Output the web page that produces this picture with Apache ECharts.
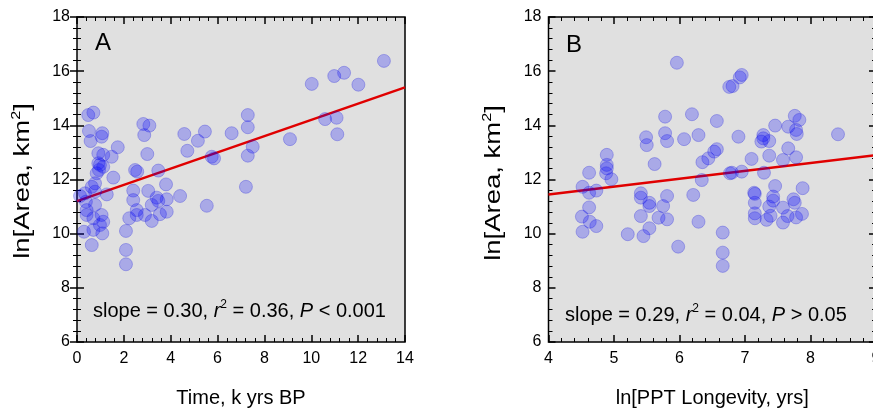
<!DOCTYPE html>
<html><head><meta charset="utf-8">
<script src="https://cdn.jsdelivr.net/npm/echarts@6/dist/echarts.min.js"></script>
<style>html,body{margin:0;padding:0;background:#fff}#c{width:873px;height:414px}</style>
</head><body><div id="c"></div>
<script>
// Panel A: Time (k yrs BP) vs ln[Area]
const aTime = [0.48,0.70,0.51,0.58,1.08,1.05,1.74,1.48,1.12,0.91,0.91,0.98,0.84,1.12,1.55,0.77,0.63,0.34,0.77,1.27,0.38,0.41,0.77,0.41,0.70,1.05,1.12,0.98,0.30,0.70,1.08,0.63,0.94,2.83,3.09,2.87,3.00,2.48,2.57,3.47,3.80,2.40,2.40,3.04,3.40,3.47,3.83,4.40,2.55,2.23,2.55,2.90,3.19,3.19,3.54,3.83,2.09,2.09,2.09,4.58,4.71,5.16,5.46,6.60,7.29,7.29,7.50,7.29,5.75,5.85,9.09,10.02,10.98,11.40,12.01,13.10,10.59,11.08,11.11,7.21,5.54,0.13];
const aArea = [14.38,14.47,13.79,13.42,13.71,13.58,13.19,12.84,12.91,12.97,12.60,12.54,12.23,12.47,12.07,11.86,11.73,11.49,11.55,11.45,11.18,10.87,11.06,10.69,10.57,10.69,10.44,10.32,10.07,10.14,10.01,9.58,12.35,14.05,13.99,13.64,12.94,12.35,12.29,12.33,11.82,11.59,11.24,11.58,11.33,11.21,11.27,11.39,10.87,10.57,10.69,10.69,11.06,10.47,10.72,10.81,10.10,9.40,8.87,13.68,13.06,13.43,13.77,13.71,14.38,13.93,13.21,12.88,12.84,12.78,13.49,15.53,15.82,15.94,15.50,16.38,14.23,14.28,13.67,11.73,11.03,11.39];
// Panel B: ln[PPT Longevity] vs ln[Area]
const bPPT = [5.96,6.95,6.92,6.81,6.76,5.78,6.19,6.57,5.49,5.50,5.78,5.81,6.07,6.29,6.90,4.89,4.89,4.89,4.88,5.62,4.62,4.96,6.35,6.44,6.53,6.57,6.34,6.77,4.52,4.62,4.73,5.41,5.41,5.54,5.54,5.81,5.75,6.21,4.62,4.51,4.63,4.73,5.41,5.68,5.81,6.29,4.52,5.21,5.54,5.45,5.98,6.66,6.66,6.66,7.76,7.83,7.46,7.66,7.78,7.79,7.28,7.28,7.37,7.25,8.42,7.66,7.37,7.78,7.58,7.10,6.80,6.95,7.29,7.46,7.88,7.14,7.15,7.43,7.43,7.74,7.76,7.15,7.37,7.58,7.15,7.15,7.39,7.33,7.65,7.58,7.78,7.87];
const bArea = [16.31,15.86,15.77,15.45,15.42,14.32,14.41,14.16,13.56,13.27,13.71,13.42,13.49,13.64,13.58,12.91,12.54,12.41,12.23,12.57,12.25,12.01,12.64,12.78,13.03,13.12,11.98,12.23,11.73,11.51,11.59,11.49,11.33,11.14,11.02,11.39,11.02,11.43,10.97,10.63,10.44,10.28,10.65,10.59,10.53,10.44,10.07,9.98,10.20,9.91,9.52,10.04,9.30,8.81,14.35,14.20,13.99,13.95,13.83,13.68,13.64,13.52,13.42,13.40,13.67,13.15,12.88,12.82,12.72,12.76,12.25,12.29,12.25,11.76,11.68,11.51,11.47,11.37,11.22,11.27,11.14,11.14,11.00,10.96,10.75,10.57,10.66,10.51,10.65,10.41,10.60,10.73];
// Regression lines (end points)
const regAx = [0, 14], regAy = [11.2, 15.4];
const regBx = [4, 9], regBy = [11.45, 12.9];
// Tick settings / labels
const yTicks = {min: 6, max: 18, interval: 2};
const aTicks = {min: 0, max: 14, interval: 2};
const bTicks = {min: 4, max: 9, interval: 1};
const yName = ['ln[Area, km', '2', ']'];
const statsA = ['slope = 0.30, ', 'r', '2', ' = 0.36, ', 'P', ' < 0.001'];
const statsB = ['slope = 0.29, ', 'r', '2', ' = 0.04, ', 'P', ' > 0.05'];

const FONT = "'Liberation Sans', Arial, sans-serif";
const zip = (xs, ys) => xs.map((x, i) => [x, ys[i]]);
const tick = {inside: true, length: 7, lineStyle: {color: '#000', width: 1.5}};
const minor = {show: true, splitNumber: 5, length: 4, lineStyle: {color: '#000', width: 1}};
const lbl = {color: '#000', fontSize: 16, fontFamily: FONT};
const supRich = {
  n: {fontSize: 20, fontFamily: FONT, color: '#000', lineHeight: 24},
  i: {fontSize: 20, fontFamily: FONT, color: '#000', fontStyle: 'italic', lineHeight: 24},
  s: {fontSize: 12, fontFamily: FONT, color: '#000', verticalAlign: 'top', lineHeight: 12}
};
const yRich = {
  n: {fontSize: 22, fontFamily: FONT, color: '#000', lineHeight: 26},
  s: {fontSize: 13, fontFamily: FONT, color: '#000', verticalAlign: 'top', lineHeight: 13}
};
function statText(p) {
  return `{n|${p[0]}}{i|${p[1]}}{s|${p[2]}}{n|${p[3]}}{i|${p[4]}}{n|${p[5]}}`;
}
function xAxes(t, grid, name) {
  return [
    {type: 'value', gridIndex: grid, position: 'bottom', min: t.min, max: t.max, interval: t.interval,
     axisLine: {show: false}, axisTick: tick, minorTick: minor, splitLine: {show: false},
     axisLabel: Object.assign({margin: 9}, lbl),
     name: name, nameLocation: 'middle', nameGap: 46,
     nameTextStyle: {color: '#000', fontSize: 20, fontFamily: FONT}},
    {type: 'value', gridIndex: grid, position: 'top', min: t.min, max: t.max, interval: t.interval,
     axisLine: {show: false}, axisTick: tick, minorTick: minor, splitLine: {show: false},
     axisLabel: {show: false}}
  ];
}
function yAxes(grid) {
  return [
    {type: 'value', gridIndex: grid, position: 'left', min: yTicks.min, max: yTicks.max, interval: yTicks.interval,
     axisLine: {show: false}, axisTick: tick, minorTick: minor, splitLine: {show: false},
     axisLabel: Object.assign({margin: 7}, lbl)},
    {type: 'value', gridIndex: grid, position: 'right', min: yTicks.min, max: yTicks.max, interval: yTicks.interval,
     axisLine: {show: false}, axisTick: tick, minorTick: minor, splitLine: {show: false},
     axisLabel: {show: false}}
  ];
}
function yNameGraphic(cx, cy) {
  return {type: 'text', x: cx, y: cy, rotation: Math.PI / 2, scaleX: 1.25, z: 10,
    style: {text: `{n|${yName[0]}}{s|${yName[1]}}{n|${yName[2]}}`, rich: yRich, align: 'center', verticalAlign: 'middle'}};
}
const gridStyle = {show: true, backgroundColor: '#e0e0e0', borderColor: '#000', borderWidth: 1.5,
  containLabel: false, outerBoundsMode: 'none'};
const pointStyle = {color: 'rgba(0,0,255,0.3)', borderColor: 'rgba(20,20,220,0.35)', borderWidth: 1};
const lineStyle = {color: '#e00000', width: 2.5};

const chart = echarts.init(document.getElementById('c'), null, {renderer: 'canvas'});
chart.setOption({
  animation: false,
  backgroundColor: '#fff',
  grid: [
    Object.assign({left: 77, top: 17, width: 328, height: 325}, gridStyle),
    Object.assign({left: 548.5, top: 17, width: 327.5, height: 325}, gridStyle)
  ],
  xAxis: [...xAxes(aTicks, 0, 'Time, k yrs BP'), ...xAxes(bTicks, 1, 'ln[PPT Longevity, yrs]')],
  yAxis: [...yAxes(0), ...yAxes(1)],
  series: [
    {type: 'line', xAxisIndex: 0, yAxisIndex: 0, data: zip(regAx, regAy), symbol: 'none', lineStyle: lineStyle, z: 1},
    {type: 'line', xAxisIndex: 2, yAxisIndex: 2, data: zip(regBx, regBy), symbol: 'none', lineStyle: lineStyle, z: 1},
    {type: 'scatter', xAxisIndex: 0, yAxisIndex: 0, data: zip(aTime, aArea), symbolSize: 13, itemStyle: pointStyle, z: 2},
    {type: 'scatter', xAxisIndex: 2, yAxisIndex: 2, data: zip(bPPT, bArea), symbolSize: 13, itemStyle: pointStyle, z: 2}
  ],
  graphic: [
    yNameGraphic(23, 181),
    yNameGraphic(494, 183),
    {type: 'text', left: 95, top: 31, z: 10, style: {text: 'A', font: `24px ${FONT}`, fill: '#000'}},
    {type: 'text', left: 566, top: 33, z: 10, style: {text: 'B', font: `24px ${FONT}`, fill: '#000'}},
    {type: 'text', left: 93, top: 299, z: 10, style: {text: statText(statsA), rich: supRich}},
    {type: 'text', left: 565, top: 303, z: 10, style: {text: statText(statsB), rich: supRich}}
  ]
});
</script></body></html>
